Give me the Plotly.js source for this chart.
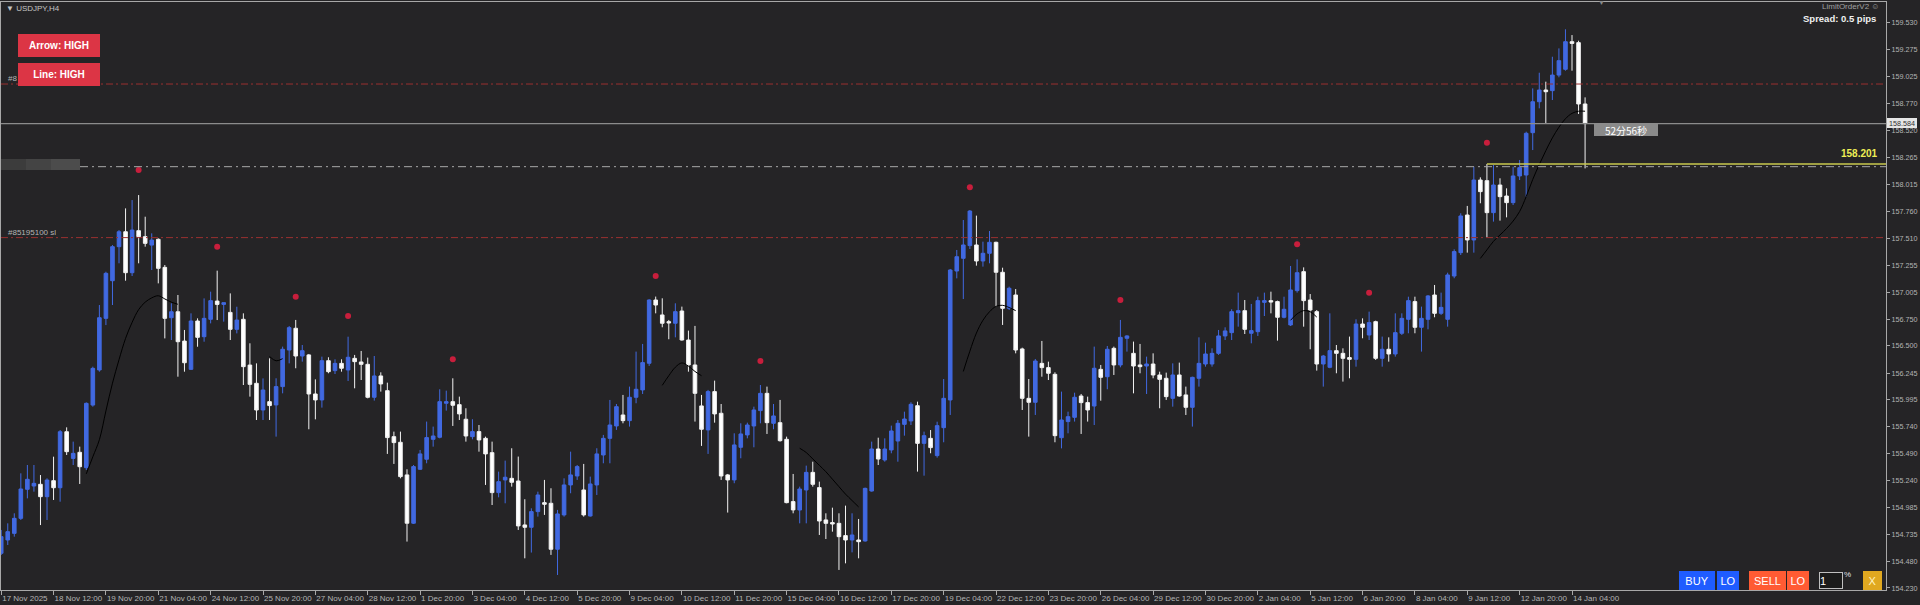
<!DOCTYPE html>
<html><head><meta charset="utf-8">
<script src="https://cdn.plot.ly/plotly-3.0.1.min.js"></script>
<style>html,body{margin:0;padding:0;background:#252426;overflow:hidden}#chart{width:1920px;height:605px}</style>
</head><body><div id="chart"></div>
<script>
// ---- data (USDJPY H4) ----
const openP = [
154.555,154.680,154.742,154.883,155.155,155.186,155.202,155.086,155.236,155.170,
155.695,155.445,155.502,155.358,155.945,156.274,156.758,157.111,157.430,157.570,
157.186,157.580,157.524,157.445,157.499,157.236,156.764,156.820,156.545,156.280,
156.733,156.586,156.749,156.920,156.889,156.814,156.655,156.749,156.320,156.149,
155.899,155.977,155.946,156.118,156.461,156.665,156.405,156.415,156.049,155.993,
156.361,156.268,156.336,156.274,156.383,156.349,156.327,156.018,156.218,156.080,
155.649,155.596,155.290,154.837,155.343,155.437,155.624,155.643,155.962,155.977,
155.949,155.812,155.649,155.696,155.633,155.499,155.124,155.243,155.258,155.233,
154.821,154.799,154.946,155.030,155.024,154.593,154.915,155.196,155.280,155.149,
154.905,155.196,155.477,155.633,155.749,155.852,155.799,156.018,156.087,156.337,
156.930,156.790,156.727,156.712,156.827,156.555,156.321,155.937,155.712,156.071,
155.868,155.290,155.243,155.549,155.665,155.749,155.893,156.055,155.774,155.780,
155.624,155.040,154.961,155.149,155.314,155.171,154.868,154.843,154.836,154.721,
154.680,154.680,154.671,155.139,155.533,155.430,155.524,155.608,155.764,155.796,
155.939,155.586,155.633,155.471,155.733,155.993,157.202,157.321,157.440,157.446,
157.296,157.368,157.471,157.190,156.852,156.977,156.471,156.008,155.971,156.336,
156.296,156.233,155.639,155.790,155.830,156.030,155.968,155.936,156.280,156.211,
156.477,156.321,156.571,156.430,156.321,156.311,156.330,156.227,156.196,156.008,
156.227,156.040,155.924,156.196,156.330,156.330,156.430,156.593,156.624,156.811,
156.830,156.618,156.633,156.908,156.924,156.915,156.768,156.696,157.018,157.196,
156.930,156.821,156.330,156.299,156.455,156.430,156.390,156.374,156.705,156.602,
156.727,156.383,156.468,156.424,156.618,156.749,156.915,156.674,156.749,156.977,
156.805,156.749,157.155,157.374,157.727,157.493,158.055,158.049,157.749,158.008,
157.905,157.843,158.093,158.102,158.499,158.789,158.899,158.893,159.039,159.093,
159.352,159.343,158.768];
const highP = [
154.774,154.836,154.930,155.305,155.383,155.383,155.289,155.258,155.461,155.711,
155.736,155.602,155.555,155.970,156.305,156.883,157.195,157.445,157.586,157.789,
157.867,157.914,157.711,157.555,157.508,157.258,156.899,156.977,156.649,156.805,
156.758,156.945,157.008,157.205,156.905,156.992,156.867,156.805,156.524,156.336,
156.195,156.383,156.196,156.493,156.686,156.743,156.508,156.424,156.186,156.399,
156.393,156.374,156.374,156.586,156.415,156.452,156.390,156.405,156.252,156.155,
155.696,155.696,155.343,155.383,155.524,155.790,155.743,156.093,156.080,156.196,
156.024,155.915,155.812,155.758,155.649,155.602,155.321,155.424,155.540,155.462,
155.062,154.977,155.133,155.243,155.165,154.962,155.258,155.508,155.383,155.393,
155.274,155.540,155.665,155.993,155.955,156.040,156.118,156.446,156.518,156.937,
156.962,156.946,156.743,156.899,156.868,156.643,156.687,156.040,156.087,156.174,
155.955,155.299,155.680,155.774,155.780,155.930,156.133,156.118,155.955,155.993,
155.649,155.299,155.180,155.377,155.414,155.227,154.930,154.983,154.930,155.002,
154.930,154.877,155.171,155.602,155.639,155.633,155.752,155.805,155.883,155.971,
155.977,155.696,155.711,155.789,156.189,157.221,157.399,157.680,157.774,157.721,
157.477,157.577,157.477,157.233,157.055,157.033,156.483,156.189,156.377,156.546,
156.352,156.252,156.071,155.883,156.061,156.049,156.024,156.493,156.321,156.499,
156.493,156.743,156.600,156.540,156.518,156.399,156.430,156.258,156.249,156.336,
156.343,156.118,156.211,156.580,156.530,156.477,156.649,156.674,156.843,156.999,
156.930,156.893,156.961,156.999,157.008,156.924,156.961,157.249,157.311,157.236,
156.986,156.836,156.415,156.805,156.508,156.477,156.587,156.749,156.758,156.821,
156.736,156.587,156.580,156.805,156.805,156.961,156.961,156.868,156.977,157.071,
156.999,157.186,157.405,157.743,157.812,158.180,158.080,158.205,158.196,158.071,
157.977,158.180,158.243,158.508,158.914,159.061,158.977,159.211,159.289,159.468,
159.414,159.361,158.830];
const lowP = [
154.539,154.633,154.711,154.867,155.070,155.133,154.820,154.867,155.055,155.039,
155.477,155.383,155.205,155.336,155.930,156.258,156.695,156.883,157.274,157.111,
157.155,157.274,157.430,157.211,157.086,156.570,156.555,156.211,156.258,156.274,
156.492,156.539,156.711,156.742,156.727,156.555,156.617,156.133,156.024,155.805,
155.805,155.805,155.649,156.055,156.336,156.290,156.352,155.718,155.811,155.921,
156.243,156.236,156.258,156.171,156.102,156.180,156.008,155.987,156.071,155.487,
155.393,155.258,154.665,154.830,155.337,155.399,155.555,155.633,155.893,155.749,
155.805,155.602,155.624,155.508,155.196,155.008,155.080,155.024,155.180,154.774,
154.508,154.562,154.899,154.915,154.540,154.352,154.899,155.118,155.243,154.899,
154.899,155.102,155.399,155.399,155.712,155.774,155.743,155.962,156.049,156.312,
156.805,156.674,156.562,156.580,156.549,156.258,155.790,155.562,155.487,155.780,
155.243,154.937,155.212,155.446,155.633,155.549,155.774,155.674,155.718,155.602,
155.024,154.930,154.836,154.836,155.180,154.727,154.689,154.758,154.399,154.461,
154.564,154.508,154.664,155.133,155.383,155.414,155.493,155.414,155.658,155.758,
155.321,155.283,155.493,155.452,155.596,155.852,157.133,156.939,157.408,157.252,
157.243,157.274,156.868,156.696,156.836,156.430,155.899,155.649,155.852,156.211,
156.180,155.596,155.539,155.680,155.790,155.674,155.790,155.758,155.986,156.093,
156.227,156.299,156.446,156.055,156.243,156.049,156.196,155.915,155.993,155.930,
156.024,155.852,155.743,156.118,156.305,156.305,156.415,156.555,156.555,156.680,
156.611,156.524,156.593,156.780,156.805,156.549,156.758,156.686,156.999,156.680,
156.468,156.268,156.118,156.290,156.243,156.165,156.196,156.305,156.571,156.555,
156.368,156.305,156.352,156.399,156.602,156.618,156.618,156.446,156.655,156.768,
156.790,156.680,157.134,157.352,157.374,157.374,157.837,157.518,157.665,157.674,
157.705,157.821,158.055,157.899,158.336,158.727,158.580,158.805,159.018,159.080,
159.080,158.674,158.164];
const closeP = [
154.711,154.758,154.883,155.158,155.249,155.211,155.086,155.242,155.170,155.695,
155.508,155.492,155.367,155.961,156.289,156.764,157.180,157.430,157.570,157.186,
157.586,157.524,157.461,157.492,157.227,156.758,156.820,156.539,156.342,156.733,
156.580,156.758,156.924,156.889,156.905,156.655,156.742,156.305,156.139,155.899,
156.086,155.940,156.118,156.468,156.671,156.405,156.455,156.049,155.993,156.361,
156.258,156.336,156.290,156.393,156.352,156.327,156.018,156.218,156.143,155.640,
155.593,155.274,154.837,155.368,155.487,155.640,155.655,155.977,155.977,155.943,
155.862,155.655,155.696,155.618,155.487,155.124,155.227,155.268,155.221,154.812,
154.799,154.946,155.102,155.015,154.593,154.924,155.196,155.290,155.368,154.915,
155.205,155.487,155.633,155.758,155.930,155.799,156.018,156.093,156.343,156.930,
156.883,156.712,156.715,156.821,156.555,156.321,156.055,155.718,156.071,155.862,
155.280,155.243,155.571,155.674,155.758,155.899,156.055,155.780,155.843,155.611,
155.030,154.962,155.158,155.314,155.202,154.858,154.836,154.830,154.711,154.680,
154.727,154.664,155.164,155.533,155.439,155.533,155.702,155.774,155.814,155.952,
155.586,155.658,155.546,155.752,156.008,157.211,157.336,157.446,157.764,157.296,
157.368,157.471,157.190,156.852,157.040,156.461,156.008,155.971,156.358,156.296,
156.243,155.658,155.805,155.836,156.018,155.968,155.899,156.290,156.205,156.468,
156.321,156.580,156.593,156.311,156.305,156.330,156.227,156.186,156.024,156.227,
156.030,155.924,156.205,156.336,156.424,156.430,156.593,156.640,156.821,156.830,
156.655,156.643,156.924,156.924,156.911,156.768,156.843,157.024,157.186,156.924,
156.836,156.330,156.405,156.455,156.430,156.383,156.374,156.705,156.674,156.718,
156.383,156.468,156.424,156.624,156.758,156.924,156.674,156.758,156.968,156.805,
156.861,157.165,157.384,157.718,157.493,158.055,157.946,157.749,158.008,157.899,
157.843,158.093,158.171,158.493,158.789,158.899,158.883,159.039,159.174,159.352,
159.336,158.768,158.584];

// time-axis labels (one every 8 bars)
const timeLabels = ["17 Nov 2025","18 Nov 12:00","19 Nov 20:00","21 Nov 04:00","24 Nov 12:00","25 Nov 20:00",
"27 Nov 04:00","28 Nov 12:00","1 Dec 20:00","3 Dec 04:00","4 Dec 12:00","5 Dec 20:00","9 Dec 04:00",
"10 Dec 12:00","11 Dec 20:00","15 Dec 04:00","16 Dec 12:00","17 Dec 20:00","19 Dec 04:00","22 Dec 12:00",
"23 Dec 20:00","26 Dec 04:00","29 Dec 12:00","30 Dec 20:00","2 Jan 04:00","5 Jan 12:00","6 Jan 20:00",
"8 Jan 04:00","9 Jan 12:00","12 Jan 20:00","14 Jan 04:00"];
const priceTicks = [159.530,159.275,159.025,158.770,158.520,158.265,158.015,157.760,157.510,157.255,157.005,
156.750,156.500,156.245,155.995,155.740,155.490,155.240,154.985,154.735,154.480,154.230];

// swing-high arrows (red dots)
const arrowBar = [21,33,45,53,69,100,116,148,171,198,209,227];
const arrowPrice = [158.149,157.430,156.961,156.780,156.374,157.155,156.358,157.987,156.930,157.452,156.998,158.405];

// black indicator line segments: first bar + values
const lineA = {start:13, v:[155.30,155.46,155.62,155.89,156.15,156.37,156.57,156.72,156.84,156.91,156.95,156.97,156.94,156.91,156.89]};
const lineB = {start:41, v:[156.40,156.36,156.38]};
const lineC = {start:101, v:[156.13,156.22,156.30,156.34,156.31,156.26,156.22]};
const lineD = {start:122, v:[155.54,155.50,155.44,155.38,155.32,155.25,155.18,155.11,155.05,154.99]};
const lineE = {start:147, v:[156.26,156.45,156.62,156.74,156.82,156.87,156.88,156.86,156.83]};
const lineF = {start:197, v:[156.74,156.80,156.83,156.82,156.77]};
const lineG = {start:226, v:[157.32,157.40,157.48,157.54,157.60,157.67,157.76,157.90,158.06,158.20,158.33,158.45,158.55,158.63,158.68,158.70,158.70]};

// horizontal levels
const tpLevel = 158.955, slLevel = 157.515, bidLevel = 158.584, entryLevel = 158.180, limitLevel = 158.205;
const limitStartBar = 227;
const limitText = "158.201";
const countdownText = "52分56秒";

// ---- layout helpers (pixel -> paper) ----
const ML = 1, MR = 34, MT = 2, MB = 15, W = 1920, H = 605;
const PW = W - ML - MR, PH = H - MT - MB;
const px = X => (X - ML) / PW;
const py = Y => 1 - (Y - MT) / PH;
const barPx = 6.545, bar0 = 1.2;
const xr = [(ML - bar0) / barPx, (W - MR - bar0) / barPx];
const yTopPrice = 159.530, yTopPx = 22.7, pricePerPx = 0.009376;
const yr = [yTopPrice - (H - MB - yTopPx) * pricePerPx, yTopPrice + (yTopPx - MT) * pricePerPx];

const idx = openP.map((_, i) => i);
const BLUE = '#4169e1';
const FONT = 'Liberation Sans, Arial, sans-serif';

const traces = [{
  type: 'candlestick', x: idx, open: openP, high: highP, low: lowP, close: closeP,
  increasing: {line: {color: BLUE, width: 1}, fillcolor: BLUE},
  decreasing: {line: {color: '#f2f2f2', width: 1}, fillcolor: '#ffffff'},
  whiskerwidth: 0, hoverinfo: 'none', showlegend: false
}];
[lineA, lineB, lineC, lineD, lineE, lineF, lineG].forEach(s => {
  traces.push({type: 'scatter', mode: 'lines', x: s.v.map((_, k) => s.start + k), y: s.v,
    line: {color: '#000000', width: 1, shape: 'spline'}, hoverinfo: 'none', showlegend: false});
});
traces.push({type: 'scatter', mode: 'markers', x: arrowBar, y: arrowPrice,
  marker: {color: '#c81e3c', size: 6}, hoverinfo: 'none', showlegend: false});

const shapes = [
  {type: 'line', xref: 'paper', yref: 'y', x0: 0, x1: 1, y0: tpLevel, y1: tpLevel, line: {color: '#9a3030', width: 1, dash: '7px,3px,2px,3px'}},
  {type: 'line', xref: 'paper', yref: 'y', x0: 0, x1: 1, y0: slLevel, y1: slLevel, line: {color: '#9a3030', width: 1, dash: '7px,3px,2px,3px'}},
  {type: 'line', xref: 'paper', yref: 'y', x0: 0, x1: 1, y0: bidLevel, y1: bidLevel, line: {color: '#8c8c8c', width: 1.2}},
  {type: 'line', xref: 'paper', yref: 'y', x0: px(80), x1: 1, y0: entryLevel, y1: entryLevel, line: {color: '#a8a8a8', width: 1, dash: '8px,4px,2px,4px'}},
  {type: 'line', xref: 'x', yref: 'y', x0: limitStartBar, x1: xr[1], y0: limitLevel, y1: limitLevel, line: {color: '#c8c84e', width: 1.5}},
  {type: 'rect', xref: 'paper', yref: 'paper', x0: px(1), x1: px(26), y0: py(170), y1: py(159), fillcolor: '#3c3c3c', line: {width: 0}},
  {type: 'rect', xref: 'paper', yref: 'paper', x0: px(26), x1: px(51), y0: py(170), y1: py(159), fillcolor: '#444444', line: {width: 0}},
  {type: 'rect', xref: 'paper', yref: 'paper', x0: px(51), x1: px(80), y0: py(170), y1: py(159), fillcolor: '#4c4c4c', line: {width: 0}}
];

function box(text, cx, cy, w, h, bg, color, size, extra) {
  return Object.assign({xref: 'paper', yref: 'paper', x: px(cx), y: py(cy), xanchor: 'center', yanchor: 'middle',
    text: text, showarrow: false, width: w, height: h, bgcolor: bg, borderpad: 0, borderwidth: 0,
    font: {family: FONT, size: size, color: color}, align: 'center', valign: 'middle'}, extra || {});
}
function label(text, x, y, anchor, size, color, family) {
  return {xref: 'paper', yref: 'paper', x: px(x), y: py(y), xanchor: anchor, yanchor: 'middle', text: text,
    showarrow: false, font: {family: family || FONT, size: size, color: color}};
}

const annotations = [
  label('#8', 6, 79, 'left', 8, '#b4b4b4'),
  label('#85195100 sl', 6, 232, 'left', 8, '#b4b4b4'),
  label('▼ USDJPY,H4', 4, 8, 'left', 8, '#c4c4c4'),
  label('▼', 1601, 3, 'center', 7, '#8a8a8a'),
  box('<b>Arrow: HIGH</b>', 59, 45.5, 82, 23, '#dc3545', '#ffffff', 10),
  box('<b>Line: HIGH</b>', 59, 74.5, 82, 23, '#dc3545', '#ffffff', 10),
  label('LimitOrderV2 ☺', 1882, 7, 'right', 8, '#a0a0a0'),
  label('<b>Spread: 0.5 pips</b>', 1878, 19, 'right', 9.5, '#f0f0f0'),
  label('<b>' + limitText + '</b>', 1880, 153, 'right', 10, '#eeee55'),
  box(countdownText, 1626, 130, 64, 12, '#8a8a8a', '#ffffff', 10, {font: {family: 'Noto Sans CJK JP, sans-serif', size: 10, color: '#ffffff'}}),
  box(bidLevel.toFixed(3), 1902, 122.7, 30, 10, '#e6e6e6', '#303030', 7.2),
  box('BUY', 1697, 580.5, 36, 19, '#1f5cff', '#ffffff', 11),
  box('LO', 1728, 580.5, 22, 19, '#1f5cff', '#ffffff', 11),
  box('SELL', 1767, 580.5, 37, 19, '#ff5b33', '#ffffff', 11),
  box('LO', 1798, 580.5, 22, 19, '#ff5b33', '#ffffff', 11),
  box('1', 1831, 580, 22, 15, '#1b1b1b', '#ffffff', 11, {bordercolor: '#c0c0c0', borderwidth: 1, align: 'left'}),
  label('%', 1847, 574, 'center', 8, '#e0e0e0'),
  box('X', 1872.5, 580.5, 19, 19, '#e0a820', '#fff4c0', 11)
];

const layout = {
  width: W, height: H, margin: {l: ML, r: MR, t: MT, b: MB, pad: 0},
  paper_bgcolor: '#252426', plot_bgcolor: '#252426',
  showlegend: false, hovermode: false, boxgap: 0.45, boxgroupgap: 0,
  xaxis: {type: 'linear', range: xr, rangeslider: {visible: false}, showgrid: false, zeroline: false,
    tickmode: 'array', tickvals: timeLabels.map((_, k) => k * 8), ticktext: timeLabels, tickangle: 0,
    ticks: 'outside', ticklen: 4, tickcolor: '#a8a8a8', ticklabelposition: 'outside right',
    showline: true, linecolor: '#a8a8a8', linewidth: 1, mirror: true,
    tickfont: {family: FONT, size: 8, color: '#b4b4b4'}},
  yaxis: {side: 'right', range: yr, showgrid: false, zeroline: false,
    tickmode: 'array', tickvals: priceTicks, tickformat: '.3f',
    ticks: 'outside', ticklen: 3, tickcolor: '#a8a8a8',
    showline: true, linecolor: '#a8a8a8', linewidth: 1, mirror: true,
    tickfont: {family: FONT, size: 7.2, color: '#b4b4b4'}},
  shapes: shapes, annotations: annotations
};
Plotly.newPlot('chart', traces, layout, {displayModeBar: false, staticPlot: true});
</script></body></html>
